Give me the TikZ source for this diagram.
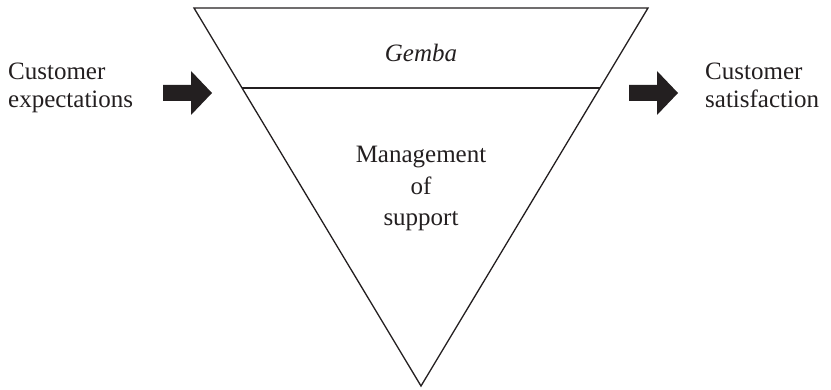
\documentclass[tikz,border=0pt]{standalone}
\usepackage{fontspec}
\setmainfont{Liberation Serif}
\definecolor{ink}{HTML}{231F20}
\tikzset{
  edge/.style={draw=ink, line width=1.3pt, line join=miter},
  fatarrow/.style={fill=ink, draw=none},
  label/.style={inner sep=0pt, text=ink, font=\fontsize{25}{28}\selectfont},
}
\begin{document}
\begin{tikzpicture}[x=1pt, y=-1pt]
\useasboundingbox (0,0) rectangle (831,390);
% funnel
\coordinate (tl) at (194,8);
\coordinate (tr) at (648,8);
\coordinate (ap) at (421,386);
\coordinate (ml) at (242,88);
\coordinate (mr) at (600,88);
\draw[edge] (tl) -- (tr) -- (ap) -- cycle;
\draw[edge] (ml) -- (mr);
% arrows
\fill[fatarrow] (163,85) -- (191,85) -- (191,71) -- (212,93) -- (191,115) -- (191,101) -- (163,101) -- cycle;
\fill[fatarrow] (629,85) -- (657,85) -- (657,71) -- (678,93) -- (657,115) -- (657,101) -- (629,101) -- cycle;
% texts (base anchor = baseline of last line)
\node[label, anchor=base west, align=left] (cin) at (8,108) {Customer\\expectations};
\node[label, anchor=base west, align=left] (cout) at (705,108) {Customer\\satisfaction};
\node[label, anchor=base, font=\fontsize{25}{28}\selectfont\itshape] (gemba) at (421,62) {Gemba};
\node[label, anchor=base, align=center, font=\fontsize{25}{31.5}\selectfont] (mgmt) at (421,226) {Management\\of\\support};
\end{tikzpicture}
\end{document}
